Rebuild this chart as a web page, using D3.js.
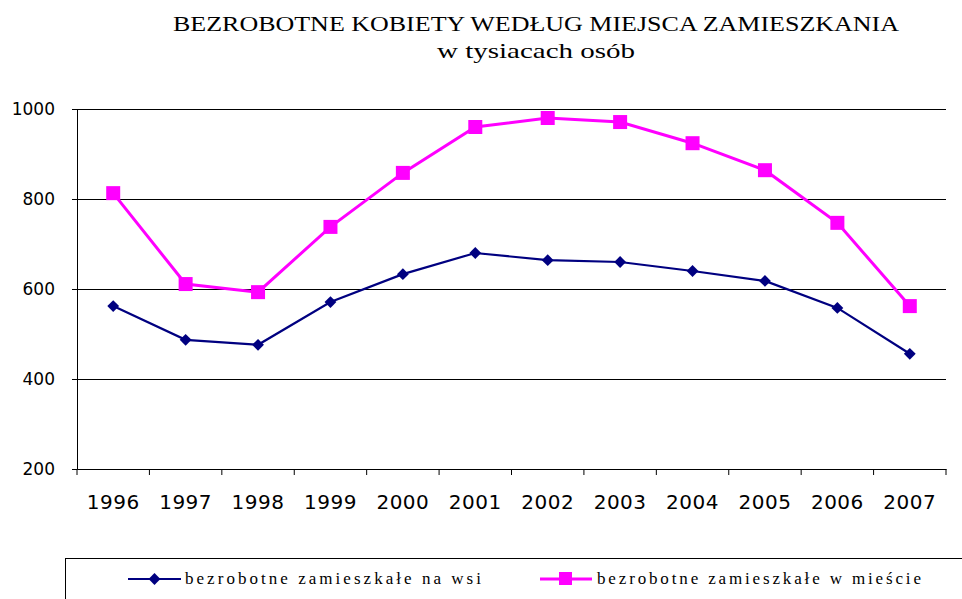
<!DOCTYPE html>
<html>
<head>
<meta charset="utf-8">
<script src="https://cdn.jsdelivr.net/npm/d3@7"></script>
<style>
  body { margin: 0; background: #fff; }
  svg { display: block; }
</style>
</head>
<body>
<div id="chart"></div>
<script>
var years = ["1996", "1997", "1998", "1999", "2000", "2001", "2002", "2003", "2004", "2005", "2006", "2007"];
var wies = [562, 487, 476, 571, 633, 680, 664, 660, 640, 618, 558, 456];
var miasto = [813, 611, 593, 738, 858, 960, 980, 971, 924, 864, 747, 562];
var yTicks = [200, 400, 600, 800, 1000];
var titleLines = ["BEZROBOTNE KOBIETY WEDŁUG MIEJSCA ZAMIESZKANIA", "w tysiacach osób"];
var legendNames = ["bezrobotne zamieszkałe na wsi", "bezrobotne zamieszkałe w mieście"];

var width = 962, height = 599;
var plotL = 77, plotR = 946, plotT = 109, plotB = 469;

var svg = d3.select("#chart").append("svg")
  .attr("width", width)
  .attr("height", height);

// title
svg.append("text")
  .attr("x", 536).attr("y", 31)
  .attr("text-anchor", "middle")
  .attr("font-family", "Liberation Serif")
  .attr("font-size", 21)
  .attr("textLength", 726)
  .attr("lengthAdjust", "spacingAndGlyphs")
  .text(titleLines[0]);
svg.append("text")
  .attr("x", 536).attr("y", 58)
  .attr("text-anchor", "middle")
  .attr("font-family", "Liberation Serif")
  .attr("font-size", 21)
  .attr("textLength", 198)
  .attr("lengthAdjust", "spacingAndGlyphs")
  .text(titleLines[1]);

var x = d3.scaleBand().domain(years).range([plotL, plotR]);
var y = d3.scaleLinear().domain([200, 1000]).range([plotB, plotT]);

// gridlines
svg.append("g")
  .selectAll("line")
  .data(yTicks.slice(1))
  .enter().append("line")
  .attr("x1", plotL).attr("x2", plotR)
  .attr("y1", function(d) { return y(d) + 0.5; })
  .attr("y2", function(d) { return y(d) + 0.5; })
  .attr("stroke", "#000")
  .attr("stroke-width", 1);

// y axis
var yAxis = d3.axisLeft(y).tickValues(yTicks).tickFormat(d3.format("d")).tickSize(5).tickPadding(17);
var gy = svg.append("g")
  .attr("transform", "translate(" + plotL + ",0)")
  .call(yAxis);
gy.selectAll("text")
  .attr("font-family", "DejaVu Sans")
  .attr("font-size", 17)
  .attr("fill", "#000");

// x axis
var xAxis = d3.axisBottom(x).tickSize(0).tickPadding(26);
var gx = svg.append("g")
  .attr("transform", "translate(0," + plotB + ")")
  .call(xAxis);
gx.selectAll("text")
  .attr("font-family", "DejaVu Sans")
  .attr("font-size", 20)
  .attr("letter-spacing", 0.5)
  .attr("fill", "#000");
gx.selectAll(".tick line").remove();
// tick marks between categories
gx.selectAll(".sep")
  .data(years.concat(["end"]))
  .enter().append("line")
  .attr("class", "sep")
  .attr("x1", function(d, i) { return plotL + i * x.bandwidth(); })
  .attr("x2", function(d, i) { return plotL + i * x.bandwidth(); })
  .attr("y1", 0).attr("y2", 6)
  .attr("stroke", "#000");

svg.selectAll(".domain").attr("stroke", "#000");

var line = d3.line()
  .x(function(d, i) { return x(years[i]) + x.bandwidth() / 2; })
  .y(function(d) { return y(d); });

// miasto series
svg.append("path")
  .datum(miasto)
  .attr("d", line)
  .attr("fill", "none")
  .attr("stroke", "#ff00ff")
  .attr("stroke-width", 3);
svg.selectAll(".sq")
  .data(miasto)
  .enter().append("rect")
  .attr("class", "sq")
  .attr("x", function(d, i) { return x(years[i]) + x.bandwidth() / 2 - 7; })
  .attr("y", function(d) { return y(d) - 7; })
  .attr("width", 14).attr("height", 14)
  .attr("fill", "#ff00ff");

// wies series
svg.append("path")
  .datum(wies)
  .attr("d", line)
  .attr("fill", "none")
  .attr("stroke", "#000080")
  .attr("stroke-width", 2.2);
var diamond = d3.symbol().type(d3.symbolSquare).size(70);
svg.selectAll(".dm")
  .data(wies)
  .enter().append("path")
  .attr("class", "dm")
  .attr("d", diamond)
  .attr("transform", function(d, i) {
    return "translate(" + (x(years[i]) + x.bandwidth() / 2) + "," + y(d) + ")rotate(45)";
  })
  .attr("fill", "#000080");

// legend
svg.append("rect")
  .attr("x", 65.5).attr("y", 558.5)
  .attr("width", 920).attr("height", 60)
  .attr("fill", "none")
  .attr("stroke", "#000")
  .attr("stroke-width", 1);

var lg1 = svg.append("g");
lg1.append("line")
  .attr("x1", 128).attr("x2", 181).attr("y1", 579).attr("y2", 579)
  .attr("stroke", "#000080").attr("stroke-width", 2.2);
lg1.append("path")
  .attr("d", diamond)
  .attr("transform", "translate(154.5,579)rotate(45)")
  .attr("fill", "#000080");
lg1.append("text")
  .attr("x", 185).attr("y", 584)
  .attr("font-family", "Liberation Serif")
  .attr("font-size", 17)
  .attr("textLength", 296)
  .attr("lengthAdjust", "spacing")
  .text(legendNames[0]);

var lg2 = svg.append("g");
lg2.append("line")
  .attr("x1", 540).attr("x2", 592).attr("y1", 579).attr("y2", 579)
  .attr("stroke", "#ff00ff").attr("stroke-width", 3);
lg2.append("rect")
  .attr("x", 559).attr("y", 572)
  .attr("width", 13).attr("height", 13)
  .attr("fill", "#ff00ff");
lg2.append("text")
  .attr("x", 597).attr("y", 584)
  .attr("font-family", "Liberation Serif")
  .attr("font-size", 17)
  .attr("textLength", 324)
  .attr("lengthAdjust", "spacing")
  .text(legendNames[1]);
</script>
</body>
</html>
